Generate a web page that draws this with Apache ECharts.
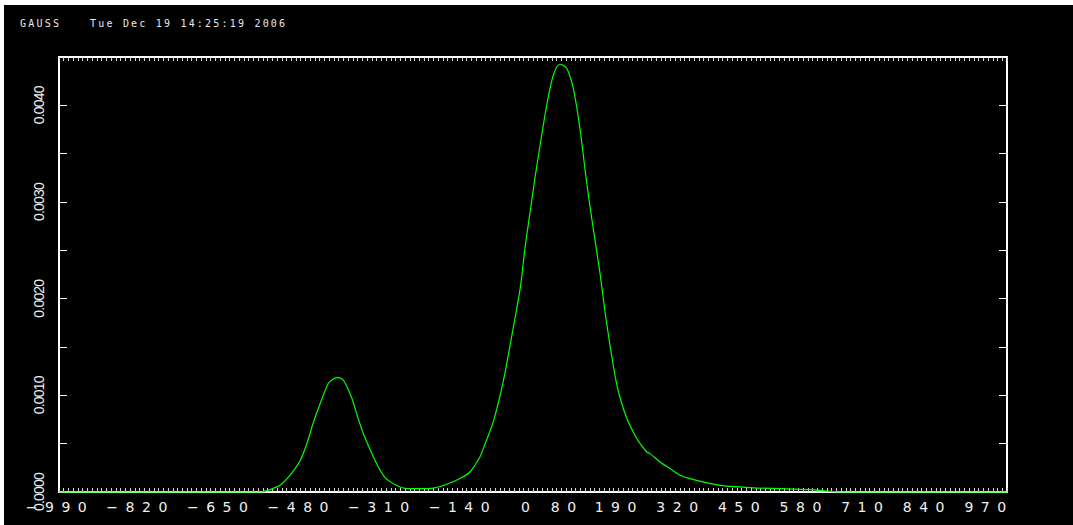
<!DOCTYPE html>
<html>
<head>
<meta charset="utf-8">
<script src="https://cdn.jsdelivr.net/npm/echarts@6/dist/echarts.min.js"></script>
<style>
  html, body { margin: 0; padding: 0; background: #ffffff; width: 1073px; height: 525px; overflow: hidden; }
  #chart { position: absolute; left: 4px; top: 5px; width: 1069px; height: 520px; background: #000000; }
  #chart text[style*="DejaVu Sans"] { letter-spacing: 7.5px; }
  #chart text[style*="DejaVu Sans Mono"] { letter-spacing: 2.2px; }
  #chart text[style*="Liberation Sans"] { letter-spacing: -0.8px; }
</style>
</head>
<body>
<div id="chart"></div>
<script>
// ---- data ----
const titleName = 'GAUSS';
const titleDate = 'Tue Dec 19 14:25:19 2006';
const xTickLabels = [-990, -820, -650, -480, -310, -140, 0, 80, 190, 320, 450, 580, 710, 840, 970];
const yTickLabels = [0, 0.001, 0.002, 0.003, 0.004];
const xValues = [-1000, -800, -600, -576, -555, -534, -513, -492, -477, -464, -449, -432, -422, -413,
  -400, -382, -371, -358, -344, -330, -312, -288, -266, -238, -210, -182, -154, -133, -112, -105,
  -84, -63, -42, -27, -17, -6, 4, 15, 29, 43, 57, 71, 85, 99, 113, 127, 141, 155, 177, 198,
  219, 226, 240, 247, 268, 289, 310, 331, 359, 395, 437, 472, 521, 584, 620, 654, 800, 1000];
const yValues = [0, 0, 0, 0, 0.000025, 0.000069, 0.000173, 0.000318, 0.000501, 0.00071, 0.000915, 0.001122, 0.001167, 0.001184,
  0.001156, 0.000967, 0.000794, 0.000605, 0.000442, 0.000294, 0.000149, 0.000069, 0.000035, 0.000035, 0.000041, 0.00008, 0.000139, 0.000207, 0.000362, 0.000449,
  0.000725, 0.001139, 0.001691, 0.002106, 0.00252, 0.0029, 0.003244, 0.003589, 0.004003, 0.004314, 0.004425, 0.004383, 0.004176, 0.003762, 0.003209, 0.002727, 0.002277, 0.00176, 0.001105, 0.00076,
  0.000553, 0.000501, 0.000414, 0.000397, 0.000311, 0.000242, 0.000173, 0.000139, 0.000104, 0.000069, 0.000052, 0.000041, 0.000035, 0.000025, 0.00001, 0, 0, 0];

const xMin = -1000, xMax = 1000, xStep = 10;
const yMin = 0, yMax = 0.0045, yStep = 0.0005;

const seriesData = xValues.map((x, i) => [x, yValues[i]]);

function isXLabel(v) {
  return xTickLabels.some(t => Math.abs(t - v) < 1e-6);
}
function fmtX(v) {
  const r = Math.round(v);
  if (!isXLabel(r)) return '';
  return r < 0 ? '\u2212' + Math.abs(r) : String(r);
}
function fmtY(v) {
  const hit = yTickLabels.find(t => Math.abs(t - v) < 1e-9);
  return hit === undefined ? '' : hit.toFixed(4);
}

const white = '#ffffff';
const xAxisBase = {
  type: 'value', min: xMin, max: xMax, interval: xStep,
  axisLine: { show: true, onZero: false, lineStyle: { color: white, width: 2 } },
  axisTick: { show: true, inside: true, length: 4, lineStyle: { color: '#d8d8d8', width: 1 } },
  splitLine: { show: false },
  minorTick: { show: false }
};
const yAxisBase = {
  type: 'value', min: yMin, max: yMax, interval: yStep,
  axisLine: { show: true, onZero: false, lineStyle: { color: white, width: 2 } },
  axisTick: { show: true, inside: true, length: 8, lineStyle: { color: white, width: 1 } },
  splitLine: { show: false }
};

const chart = echarts.init(document.getElementById('chart'), null, { renderer: 'svg', width: 1069, height: 520 });
chart.setOption({
  backgroundColor: '#000000',
  animation: false,
  title: [
    { text: titleName, left: 16, top: 13, padding: 0,
      textStyle: { color: '#e8e8e8', fontSize: 10, fontWeight: 'normal', fontFamily: 'DejaVu Sans Mono' } },
    { text: titleDate, left: 86, top: 13, padding: 0,
      textStyle: { color: '#e8e8e8', fontSize: 10, fontWeight: 'normal', fontFamily: 'DejaVu Sans Mono' } }
  ],
  grid: { left: 55, right: 66, top: 52, bottom: 33, containLabel: false },
  xAxis: [
    Object.assign({}, xAxisBase, {
      position: 'bottom',
      axisLabel: { show: true, formatter: fmtX, margin: 8, color: '#f0f0f0', fontSize: 14,
        fontFamily: 'DejaVu Sans', padding: [0, 7.5, 0, 0], hideOverlap: false }
    }),
    Object.assign({}, xAxisBase, { position: 'top', axisLabel: { show: false } })
  ],
  yAxis: [
    Object.assign({}, yAxisBase, {
      position: 'left',
      axisLabel: { show: true, formatter: fmtY, rotate: 90, margin: 13, color: '#f0f0f0', fontSize: 14,
        fontFamily: 'Liberation Sans', hideOverlap: false }
    }),
    Object.assign({}, yAxisBase, { position: 'right', axisLabel: { show: false } })
  ],
  series: [{
    type: 'line',
    data: seriesData,
    showSymbol: false,
    symbol: 'none',
    clip: false,
    smooth: 0.3,
    lineStyle: { color: '#00ff00', width: 1.2 },
    z: 5
  }]
});
</script>
</body>
</html>
